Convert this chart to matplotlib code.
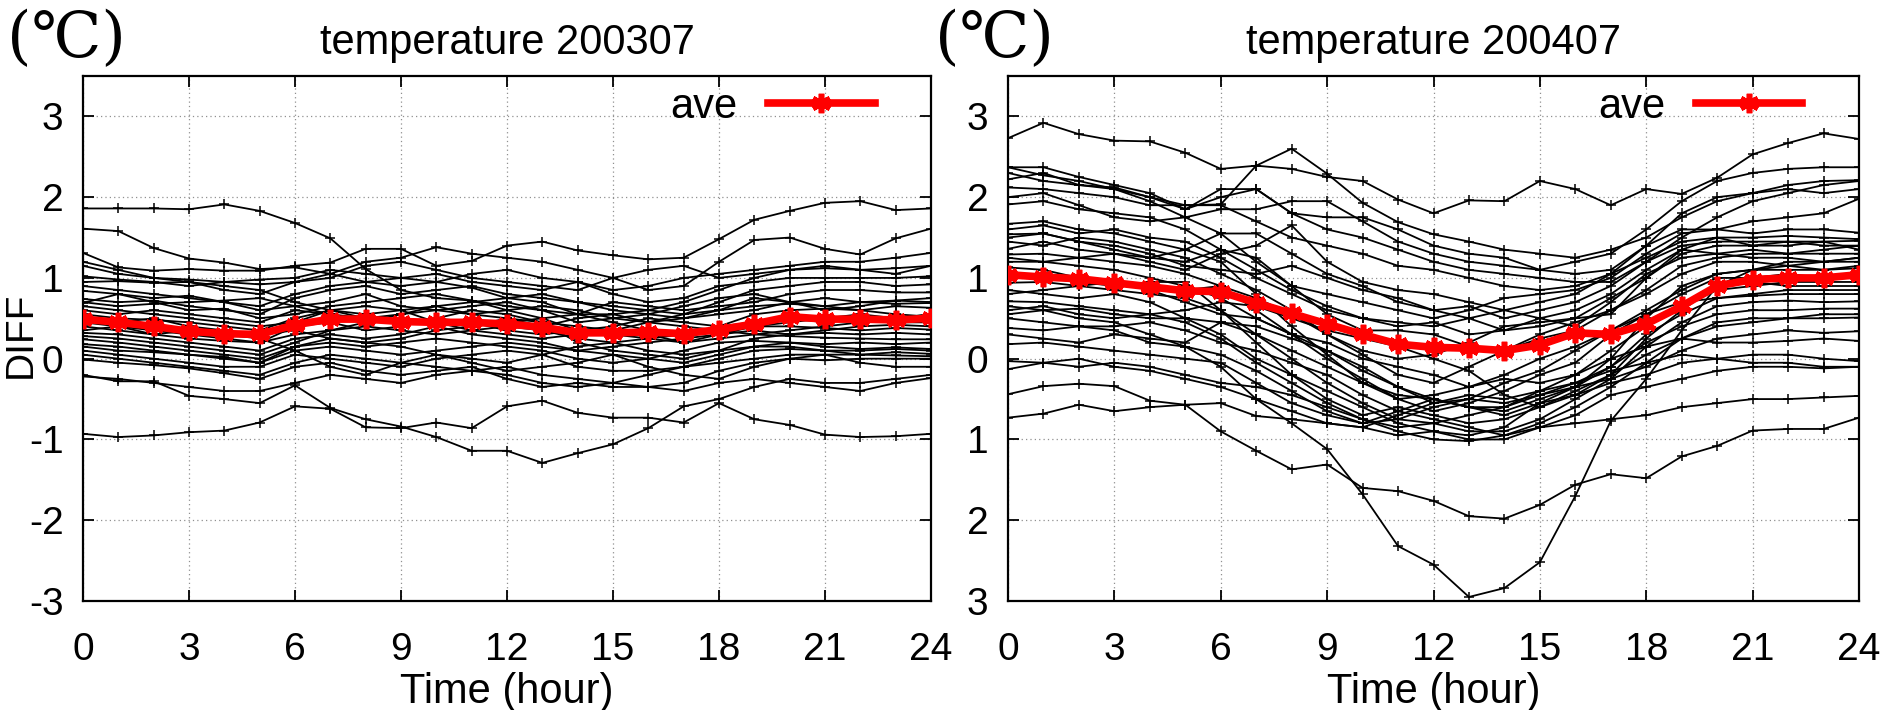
import matplotlib
matplotlib.use("Agg")
import matplotlib.pyplot as plt

plt.rcParams['font.family'] = ['Liberation Sans', 'DejaVu Sans']

# hours 0..24
hours = list(range(25))

# DIFF per station, July 2003 (one list per station, values at hours 0..24)
diff_200307 = [
    [1.86, 1.86, 1.86, 1.85, 1.91, 1.83, 1.68, 1.49, 1.11, 0.85, 0.75, 0.72, 0.60, 0.50, 0.35, 0.30, 0.25, 0.20, 0.30, 0.40, 0.45, 0.50, 0.55, 0.50, 0.55],
    [1.61, 1.58, 1.37, 1.24, 1.19, 1.11, 1.13, 1.05, 0.95, 0.90, 0.95, 0.88, 0.75, 0.70, 0.55, 0.55, 0.60, 0.70, 0.85, 1.00, 1.10, 1.15, 1.10, 1.05, 1.15],
    [1.31, 1.13, 1.09, 1.11, 1.09, 1.09, 1.15, 1.19, 1.36, 1.36, 1.15, 1.21, 1.40, 1.45, 1.34, 1.28, 1.23, 1.25, 1.48, 1.72, 1.83, 1.93, 1.95, 1.84, 1.86],
    [1.15, 1.05, 1.00, 0.98, 0.95, 0.92, 0.95, 1.05, 1.20, 1.25, 1.38, 1.30, 1.25, 1.20, 1.10, 1.00, 0.85, 0.90, 1.20, 1.47, 1.50, 1.36, 1.29, 1.49, 1.61],
    [1.02, 0.98, 0.95, 0.90, 0.95, 0.98, 1.00, 1.10, 1.05, 1.00, 0.95, 1.05, 1.10, 1.00, 0.95, 0.85, 0.90, 1.00, 1.05, 1.10, 1.15, 1.20, 1.20, 1.25, 1.31],
    [0.95, 0.96, 0.94, 0.95, 0.85, 0.80, 0.95, 1.00, 1.15, 1.20, 1.10, 1.00, 0.95, 0.90, 0.85, 1.00, 1.10, 1.15, 1.00, 1.05, 1.10, 1.12, 1.10, 1.12, 1.15],
    [0.84, 0.80, 0.75, 0.78, 0.70, 0.65, 0.80, 0.90, 0.95, 1.00, 1.05, 0.95, 0.90, 0.85, 0.95, 0.80, 0.70, 0.75, 0.90, 0.95, 1.00, 1.00, 1.00, 1.00, 1.02],
    [0.74, 0.70, 0.72, 0.65, 0.60, 0.55, 0.75, 0.85, 0.90, 0.80, 0.85, 0.90, 0.80, 0.75, 0.70, 0.65, 0.60, 0.55, 0.70, 0.85, 0.90, 0.95, 0.95, 0.90, 0.92],
    [0.69, 0.80, 0.70, 0.60, 0.62, 0.50, 0.55, 0.65, 0.70, 0.75, 0.80, 0.72, 0.65, 0.60, 0.55, 0.70, 0.65, 0.60, 0.65, 0.70, 0.80, 0.85, 0.85, 0.82, 0.82],
    [0.65, 0.60, 0.55, 0.50, 0.45, 0.40, 0.45, 0.60, 0.65, 0.60, 0.65, 0.70, 0.75, 0.80, 0.70, 0.60, 0.55, 0.50, 0.55, 0.60, 0.70, 0.75, 0.70, 0.72, 0.75],
    [0.60, 0.55, 0.60, 0.55, 0.50, 0.45, 0.60, 0.55, 0.50, 0.45, 0.50, 0.60, 0.55, 0.45, 0.40, 0.35, 0.45, 0.55, 0.60, 0.65, 0.68, 0.65, 0.70, 0.68, 0.69],
    [0.55, 0.50, 0.48, 0.45, 0.40, 0.35, 0.50, 0.60, 0.55, 0.60, 0.45, 0.40, 0.45, 0.50, 0.55, 0.45, 0.35, 0.30, 0.40, 0.55, 0.60, 0.62, 0.60, 0.65, 0.63],
    [0.45, 0.40, 0.35, 0.30, 0.25, 0.20, 0.40, 0.45, 0.35, 0.40, 0.50, 0.45, 0.35, 0.30, 0.35, 0.40, 0.50, 0.45, 0.40, 0.45, 0.50, 0.45, 0.50, 0.45, 0.45],
    [0.40, 0.35, 0.30, 0.25, 0.22, 0.20, 0.30, 0.35, 0.40, 0.35, 0.30, 0.35, 0.40, 0.35, 0.25, 0.20, 0.25, 0.30, 0.35, 0.40, 0.40, 0.38, 0.35, 0.38, 0.36],
    [0.32, 0.30, 0.25, 0.20, 0.15, 0.10, 0.25, 0.30, 0.25, 0.30, 0.40, 0.30, 0.25, 0.20, 0.10, 0.15, 0.20, 0.25, 0.30, 0.35, 0.30, 0.32, 0.30, 0.32, 0.30],
    [0.28, 0.25, 0.20, 0.15, 0.10, 0.05, 0.20, 0.35, 0.45, 0.50, 0.45, 0.35, 0.30, 0.25, 0.30, 0.35, 0.30, 0.20, 0.25, 0.30, 0.28, 0.26, 0.25, 0.24, 0.24],
    [0.24, 0.20, 0.15, 0.10, 0.05, 0.00, 0.15, 0.20, 0.15, 0.20, 0.25, 0.20, 0.15, 0.10, 0.00, -0.05, 0.00, 0.10, 0.20, 0.22, 0.20, 0.18, 0.20, 0.18, 0.20],
    [0.18, 0.15, 0.10, 0.05, 0.00, -0.05, 0.10, 0.15, 0.10, 0.05, 0.10, 0.15, 0.20, 0.15, 0.10, 0.05, 0.00, -0.05, 0.05, 0.15, 0.20, 0.15, 0.12, 0.14, 0.12],
    [0.10, 0.05, 0.00, -0.05, -0.10, -0.10, 0.05, 0.00, -0.05, -0.10, 0.00, 0.05, 0.10, 0.05, -0.10, -0.15, -0.15, -0.10, 0.00, 0.10, 0.12, 0.10, 0.10, 0.12, 0.10],
    [0.05, 0.00, -0.05, -0.10, -0.15, -0.20, -0.05, 0.05, 0.00, -0.05, -0.10, -0.15, -0.10, -0.20, -0.25, -0.30, -0.20, -0.10, -0.05, 0.00, 0.05, 0.05, 0.05, 0.04, 0.03],
    [-0.01, -0.05, -0.08, -0.12, -0.18, -0.25, -0.10, -0.05, -0.15, -0.20, -0.15, -0.10, -0.25, -0.35, -0.30, -0.35, -0.35, -0.30, -0.15, -0.05, 0.00, -0.02, 0.00, 0.00, 0.00],
    [-0.20, -0.28, -0.28, -0.46, -0.50, -0.55, -0.33, -0.61, -0.75, -0.84, -0.97, -1.14, -1.14, -1.29, -1.17, -1.06, -0.86, -0.59, -0.50, -0.35, -0.25, -0.30, -0.30, -0.25, -0.20],
    [-0.93, -0.97, -0.95, -0.91, -0.89, -0.79, -0.59, -0.62, -0.85, -0.86, -0.79, -0.86, -0.59, -0.52, -0.67, -0.73, -0.73, -0.79, -0.55, -0.75, -0.82, -0.94, -0.97, -0.96, -0.93],
    [-0.22, -0.25, -0.30, -0.35, -0.40, -0.40, -0.30, -0.20, -0.25, -0.30, -0.20, -0.15, -0.20, -0.30, -0.35, -0.30, -0.35, -0.40, -0.30, -0.25, -0.30, -0.35, -0.40, -0.30, -0.24],
    [0.50, 0.45, 0.50, 0.40, 0.35, 0.30, 0.35, 0.25, 0.20, 0.25, 0.35, 0.40, 0.50, 0.45, 0.20, 0.10, 0.05, 0.00, 0.10, 0.25, 0.30, 0.35, 0.40, 0.42, 0.40],
    [0.35, 0.40, 0.30, 0.35, 0.30, 0.25, 0.10, -0.10, -0.20, -0.05, 0.05, -0.05, -0.15, -0.10, -0.05, 0.05, -0.10, -0.20, -0.25, -0.10, 0.00, 0.05, -0.05, -0.10, -0.10],
    [0.90, 0.85, 0.80, 0.75, 0.70, 0.60, 0.65, 0.70, 0.80, 0.65, 0.60, 0.55, 0.60, 0.65, 0.60, 0.50, 0.45, 0.50, 0.60, 0.75, 0.70, 0.65, 0.60, 0.55, 0.52],
    [1.20, 1.10, 1.00, 0.95, 0.90, 0.85, 0.70, 0.60, 0.50, 0.55, 0.65, 0.55, 0.50, 0.40, 0.50, 0.55, 0.45, 0.40, 0.35, 0.30, 0.35, 0.40, 0.45, 0.50, 0.55],
    [0.70, 0.65, 0.68, 0.70, 0.72, 0.75, 0.65, 0.55, 0.45, 0.55, 0.60, 0.65, 0.70, 0.60, 0.45, 0.50, 0.55, 0.65, 0.75, 0.80, 0.70, 0.60, 0.65, 0.72, 0.70],
    [0.15, 0.10, 0.08, 0.05, 0.02, -0.05, 0.15, 0.25, 0.20, 0.15, 0.05, 0.00, -0.05, 0.05, 0.15, 0.20, 0.10, 0.05, 0.10, 0.15, 0.15, 0.10, 0.05, 0.08, 0.06],
]
ave_200307 = [0.49, 0.45, 0.40, 0.34, 0.31, 0.30, 0.42, 0.49, 0.49, 0.46, 0.45, 0.45, 0.43,
              0.39, 0.32, 0.32, 0.33, 0.31, 0.36, 0.43, 0.52, 0.49, 0.49, 0.48, 0.50]

# DIFF per station, July 2004
diff_200407 = [
    [2.73, 2.92, 2.78, 2.70, 2.69, 2.55, 2.35, 2.39, 2.35, 2.25, 2.20, 1.97, 1.80, 1.96, 1.95, 2.20, 2.10, 1.90, 2.10, 2.04, 2.24, 2.53, 2.67, 2.79, 2.72],
    [2.37, 2.27, 2.20, 2.10, 2.00, 1.90, 1.91, 2.39, 2.60, 2.29, 1.93, 1.69, 1.54, 1.45, 1.35, 1.30, 1.25, 1.35, 1.50, 1.75, 1.95, 2.05, 2.15, 2.20, 2.21],
    [2.37, 2.37, 2.25, 2.15, 2.05, 1.85, 2.10, 2.10, 1.80, 1.75, 1.75, 1.60, 1.40, 1.30, 1.25, 1.10, 1.20, 1.30, 1.60, 1.95, 2.20, 2.30, 2.35, 2.37, 2.37],
    [2.30, 2.20, 2.15, 2.10, 1.95, 1.75, 1.85, 1.85, 1.95, 1.95, 1.70, 1.45, 1.30, 1.20, 1.15, 1.10, 1.05, 1.10, 1.40, 1.80, 2.00, 2.05, 2.10, 2.05, 2.10],
    [2.22, 2.30, 2.15, 2.12, 2.00, 1.85, 2.00, 2.10, 1.80, 1.60, 1.50, 1.35, 1.20, 1.10, 1.05, 1.00, 0.95, 0.95, 1.20, 1.50, 1.75, 1.95, 2.05, 2.15, 2.20],
    [2.12, 2.10, 2.05, 2.00, 1.90, 1.90, 1.90, 1.70, 1.50, 1.40, 1.30, 1.15, 1.10, 1.00, 0.90, 0.85, 0.90, 1.05, 1.40, 1.60, 1.60, 1.70, 1.75, 1.80, 1.98],
    [2.00, 2.05, 1.90, 1.75, 1.70, 1.75, 1.55, 1.20, 0.90, 0.80, 0.70, 0.60, 0.50, 0.60, 0.75, 0.80, 0.85, 1.00, 1.30, 1.55, 1.60, 1.55, 1.60, 1.60, 1.56],
    [1.91, 1.95, 1.85, 1.80, 1.75, 1.60, 1.35, 1.10, 0.85, 0.65, 0.50, 0.45, 0.40, 0.50, 0.60, 0.70, 0.80, 1.05, 1.25, 1.45, 1.50, 1.50, 1.52, 1.50, 1.48],
    [1.67, 1.70, 1.60, 1.55, 1.45, 1.35, 1.55, 1.55, 1.30, 1.05, 0.90, 0.70, 0.60, 0.65, 0.50, 0.60, 0.70, 0.90, 1.20, 1.40, 1.45, 1.45, 1.45, 1.45, 1.46],
    [1.60, 1.65, 1.55, 1.60, 1.50, 1.45, 1.25, 1.00, 0.80, 0.60, 0.50, 0.40, 0.45, 0.30, 0.35, 0.50, 0.60, 0.80, 1.10, 1.35, 1.50, 1.40, 1.45, 1.40, 1.40],
    [1.54, 1.55, 1.45, 1.40, 1.30, 1.15, 1.10, 1.05, 1.15, 1.00, 0.85, 0.75, 0.60, 0.50, 0.35, 0.40, 0.50, 0.75, 1.00, 1.30, 1.40, 1.40, 1.40, 1.45, 1.35],
    [1.45, 1.40, 1.50, 1.45, 1.35, 1.25, 1.05, 0.85, 0.60, 0.30, 0.10, 0.00, 0.05, 0.20, 0.40, 0.45, 0.50, 0.55, 1.00, 1.35, 1.30, 1.35, 1.30, 1.30, 1.30],
    [1.36, 1.45, 1.35, 1.30, 1.20, 1.10, 1.30, 1.40, 1.65, 1.20, 0.95, 0.85, 0.80, 0.70, 0.60, 0.50, 0.40, 0.70, 1.05, 1.25, 1.30, 1.25, 1.25, 1.20, 1.25],
    [1.29, 1.30, 1.25, 1.20, 1.15, 1.05, 0.90, 0.75, 0.55, 0.30, 0.05, -0.20, -0.30, -0.10, 0.10, 0.30, 0.45, 0.60, 0.80, 1.05, 1.20, 1.20, 1.15, 1.20, 1.20],
    [1.20, 1.20, 1.15, 1.10, 1.00, 0.90, 0.75, 0.50, 0.30, 0.10, -0.10, -0.35, -0.55, -0.50, -0.30, -0.15, 0.10, 0.35, 0.60, 0.85, 1.05, 1.10, 1.15, 1.10, 1.15],
    [1.13, 1.10, 1.00, 0.95, 0.90, 0.85, 0.90, 0.60, 0.30, 0.00, -0.25, -0.50, -0.65, -0.55, -0.40, -0.20, -0.05, 0.30, 0.55, 0.80, 1.00, 1.00, 1.05, 1.00, 1.08],
    [0.94, 0.95, 0.90, 0.85, 0.80, 0.75, 0.60, 0.30, 0.00, -0.30, -0.55, -0.75, -0.80, -0.70, -0.60, -0.40, -0.20, 0.10, 0.40, 0.65, 0.85, 0.90, 0.95, 0.95, 0.95],
    [0.85, 0.80, 0.75, 0.80, 0.70, 0.50, 0.30, 0.00, -0.20, -0.40, -0.60, -0.80, -0.90, -0.95, -0.85, -0.55, -0.35, -0.10, 0.30, 0.55, 0.75, 0.80, 0.85, 0.85, 0.85],
    [0.71, 0.70, 0.65, 0.60, 0.55, 0.45, 0.25, -0.05, -0.30, -0.55, -0.75, -0.85, -0.80, -0.90, -0.90, -0.75, -0.50, -0.25, 0.15, 0.45, 0.65, 0.70, 0.72, 0.70, 0.71],
    [0.65, 0.60, 0.62, 0.55, 0.50, 0.50, 0.45, 0.40, 0.25, 0.10, -0.15, -0.35, -0.50, -0.60, -0.60, -0.45, -0.30, -0.10, 0.20, 0.40, 0.55, 0.60, 0.60, 0.62, 0.62],
    [0.55, 0.60, 0.50, 0.45, 0.30, 0.15, -0.10, -0.50, -0.80, -1.12, -1.68, -2.32, -2.55, -2.95, -2.84, -2.52, -1.70, -0.77, -0.25, 0.35, 0.90, 1.10, 1.20, 1.20, 1.25],
    [0.50, 0.45, 0.40, 0.40, 0.45, 0.35, 0.20, 0.10, -0.05, -0.20, -0.45, -0.65, -0.75, -0.85, -0.95, -0.80, -0.60, -0.35, -0.05, 0.25, 0.40, 0.45, 0.50, 0.50, 0.51],
    [0.38, 0.35, 0.40, 0.35, 0.20, 0.15, 0.05, -0.15, -0.40, -0.65, -0.80, -0.75, -0.60, -0.50, -0.55, -0.45, -0.35, -0.25, -0.10, 0.10, 0.25, 0.30, 0.35, 0.32, 0.34],
    [0.30, 0.25, 0.20, 0.30, 0.25, 0.20, 0.45, 0.30, 0.10, -0.10, -0.30, -0.50, -0.45, -0.35, -0.25, -0.30, -0.20, 0.00, 0.15, 0.25, 0.20, 0.20, 0.22, 0.25, 0.22],
    [0.18, 0.20, 0.15, 0.10, 0.05, 0.00, -0.05, -0.30, -0.55, -0.70, -0.80, -0.65, -0.50, -0.60, -0.70, -0.55, -0.45, -0.30, -0.20, -0.05, 0.00, 0.05, 0.05, 0.00, -0.03],
    [-0.03, -0.05, -0.10, -0.05, -0.10, -0.20, -0.30, -0.35, -0.45, -0.60, -0.75, -0.90, -1.00, -1.02, -0.95, -0.85, -0.70, -0.45, -0.35, -0.25, -0.15, -0.10, -0.10, -0.12, -0.10],
    [-0.44, -0.34, -0.31, -0.34, -0.52, -0.57, -0.90, -1.14, -1.37, -1.31, -1.60, -1.64, -1.76, -1.95, -1.98, -1.81, -1.56, -1.43, -1.48, -1.21, -1.08, -0.89, -0.87, -0.87, -0.73],
    [-0.73, -0.68, -0.57, -0.65, -0.60, -0.57, -0.55, -0.71, -0.75, -0.80, -0.85, -0.95, -0.90, -1.00, -1.00, -0.85, -0.80, -0.75, -0.70, -0.60, -0.55, -0.50, -0.50, -0.48, -0.46],
    [-0.13, -0.05, 0.00, -0.10, -0.15, -0.25, -0.35, -0.50, -0.65, -0.80, -0.85, -0.70, -0.55, -0.45, -0.50, -0.40, -0.30, -0.15, -0.05, 0.05, 0.00, -0.05, -0.05, -0.10, -0.10],
    [1.05, 1.00, 0.95, 0.90, 0.95, 0.95, 0.60, 0.20, -0.20, -0.50, -0.70, -0.60, -0.70, -0.80, -0.75, -0.60, -0.45, -0.20, 0.25, 0.60, 0.90, 0.95, 0.90, 0.90, 0.90],
    [1.50, 1.55, 1.45, 1.35, 1.25, 1.20, 1.35, 1.25, 0.90, 0.55, 0.35, 0.35, 0.30, 0.15, 0.10, 0.25, 0.35, 0.60, 0.85, 1.15, 1.25, 1.30, 1.30, 1.35, 1.40],
    [1.25, 1.20, 1.25, 1.30, 1.25, 1.35, 1.20, 0.80, 0.40, 0.05, -0.30, -0.45, -0.50, -0.60, -0.65, -0.50, -0.35, 0.00, 0.50, 0.90, 1.05, 1.10, 1.10, 1.10, 1.12],
    [0.80, 0.85, 0.90, 0.95, 0.85, 0.70, 0.55, 0.50, 0.30, 0.20, 0.00, -0.10, -0.20, -0.35, -0.20, 0.00, 0.15, 0.35, 0.55, 0.70, 0.75, 0.78, 0.80, 0.80, 0.80],
    [0.60, 0.65, 0.55, 0.50, 0.55, 0.60, 0.70, 0.65, 0.50, 0.35, 0.25, 0.15, 0.00, -0.15, -0.45, -0.60, -0.40, -0.20, 0.05, 0.25, 0.45, 0.50, 0.50, 0.55, 0.55],
]
ave_200407 = [1.04, 1.01, 0.99, 0.94, 0.89, 0.84, 0.83, 0.69, 0.56, 0.43, 0.30, 0.18, 0.14,
              0.13, 0.10, 0.17, 0.32, 0.30, 0.43, 0.65, 0.90, 0.98, 1.00, 1.00, 1.04]

xticks = [0, 3, 6, 9, 12, 15, 18, 21, 24]
yticks = [-3, -2, -1, 0, 1, 2, 3]
ylabels_left = ['-3', '-2', '-1', '0', '1', '2', '3']
ylabels_right = ['3', '2', '1', '0', '1', '2', '3']  # minus signs are cut off in the original

fig = plt.figure(figsize=(18.88, 7.10), dpi=100)
ax1 = fig.add_axes([83 / 1888, 109 / 710, 848 / 1888, 525 / 710])
ax2 = fig.add_axes([1008 / 1888, 109 / 710, 851 / 1888, 525 / 710])

panels = [(ax1, diff_200307, ave_200307, 'temperature 200307', ylabels_left),
          (ax2, diff_200407, ave_200407, 'temperature 200407', ylabels_right)]

for ax, lines, ave, title, ylabs in panels:
    for vals in lines:
        ax.plot(hours, vals, color='black', lw=1.3, marker='+', ms=7, mew=1.1, zorder=2)
    ax.plot(hours, ave, color='red', lw=5.5, marker=(6, 2, 0), ms=14, mew=4,
            label='ave', zorder=3)

    ax.set_xlim(0, 24)
    ax.set_ylim(-3, 3.5)
    ax.set_xticks(xticks)
    ax.set_yticks(yticks)
    ax.set_yticklabels(ylabs)
    ax.tick_params(direction='in', length=8, width=1.3, top=True, right=True,
                   labelsize=28, pad=14)
    ax.tick_params(axis='x', pad=22)
    ax.grid(True, color='#909090', linestyle=(0, (1, 2.5)), lw=0.9, zorder=0)
    for sp in ax.spines.values():
        sp.set_linewidth(1.6)

    ax.set_title(title, fontsize=30, pad=16)
    ax.legend(loc='center right', bbox_to_anchor=(0.958, 0.941), frameon=False,
              markerfirst=False, fontsize=30, handlelength=2.55, handletextpad=0.75,
              borderpad=0, numpoints=1)
    ax.text(0.5, -0.195, 'Time (hour)', transform=ax.transAxes, ha='center',
            va='baseline', fontsize=30)

fig.text(66 / 1888, 1 - 40 / 710, '(℃)', ha='center', va='center', fontsize=45,
         family=['DejaVu Serif', 'Noto Sans CJK JP'])
fig.text(994 / 1888, 1 - 40 / 710, '(℃)', ha='center', va='center', fontsize=45,
         family=['DejaVu Serif', 'Noto Sans CJK JP'])
fig.text(21 / 1888, 1 - 335 / 710, 'DIFF', rotation=90, ha='center', va='center',
         fontsize=28)

fig.savefig('out.png', dpi=100)
